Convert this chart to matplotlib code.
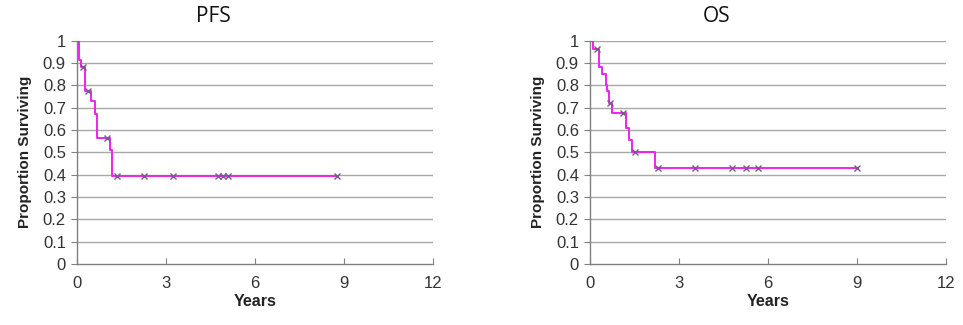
import matplotlib
matplotlib.use("Agg")
import matplotlib.pyplot as plt
import numpy as np

plt.rcParams['font.family'] = ['Liberation Sans', 'DejaVu Sans']

# PFS Kaplan-Meier step data
pfs_times = [0, 0.07, 0.13, 0.26, 0.46, 0.60, 0.66, 1.11, 1.17, 8.76]
pfs_surv = [1.0, 0.915, 0.88, 0.775, 0.73, 0.67, 0.565, 0.51, 0.395, 0.395]
pfs_cens_t = [0.20, 0.36, 1.02, 1.34, 2.26, 3.24, 4.75, 4.93, 5.10, 8.76]
pfs_cens_s = [0.88, 0.775, 0.565, 0.395, 0.395, 0.395, 0.395, 0.395, 0.395, 0.395]

# OS Kaplan-Meier step data
os_times = [0, 0.11, 0.30, 0.40, 0.53, 0.58, 0.64, 0.73, 1.22, 1.33, 1.40, 2.19, 8.99]
os_surv = [1.0, 0.965, 0.88, 0.85, 0.80, 0.775, 0.72, 0.675, 0.61, 0.555, 0.50, 0.43, 0.43]
os_cens_t = [0.22, 0.68, 1.12, 1.52, 2.30, 3.54, 4.77, 5.26, 5.67, 8.99]
os_cens_s = [0.965, 0.72, 0.675, 0.50, 0.43, 0.43, 0.43, 0.43, 0.43, 0.43]

x_ticks = [0, 3, 6, 9, 12]
y_ticks = [0, 0.1, 0.2, 0.3, 0.4, 0.5, 0.6, 0.7, 0.8, 0.9, 1]
y_labels = ['0', '0.1', '0.2', '0.3', '0.4', '0.5', '0.6', '0.7', '0.8', '0.9', '1']

fig = plt.figure(figsize=(9.63, 3.25), dpi=100)

panels = [
    ("PFS", pfs_times, pfs_surv, pfs_cens_t, pfs_cens_s, 77, 213),
    ("OS", os_times, os_surv, os_cens_t, os_cens_s, 590, 717),
]

W, H = 963, 325
for title, t, s, ct, cs, x0, tx in panels:
    ax = fig.add_axes([x0 / W, 1 - 264 / H, 356 / W, 223.3 / H])
    ax.set_xlim(0, 12)
    ax.set_ylim(0, 1)
    for yv in y_ticks[1:]:
        ax.axhline(yv, color='#a8a8a8', lw=1.0, zorder=1)
    ax.step(t, s, where='post', color='#ee22ee', lw=1.4, zorder=3)
    ax.plot(ct, cs, linestyle='none', marker='x', color='#7a5a8a', ms=5, mew=1.0, zorder=4)
    ax.set_xticks(x_ticks)
    ax.set_yticks(y_ticks)
    ax.set_yticklabels(y_labels)
    for sp in ['top', 'right']:
        ax.spines[sp].set_visible(False)
    for sp in ['left', 'bottom']:
        ax.spines[sp].set_color('#808080')
        ax.spines[sp].set_linewidth(1.0)
    ax.tick_params(axis='y', direction='out', length=4, color='#808080', labelsize=12,
                   labelcolor='#333333', pad=4)
    ax.tick_params(axis='x', direction='in', length=4, color='#808080', labelsize=12,
                   labelcolor='#333333', pad=9)
    ax.set_xlabel('Years', fontsize=11.5, fontweight='bold', color='#222222', labelpad=2)
    ax.set_ylabel('Proportion Surviving', fontsize=11, fontweight='bold', color='#222222', labelpad=8)
    fig.text(tx / W, 1 - 17 / H, title, fontsize=15, ha='center', va='center', color='#111111',
             family=['Open Sans', 'DejaVu Sans'])

fig.savefig('out.png', dpi=100)
